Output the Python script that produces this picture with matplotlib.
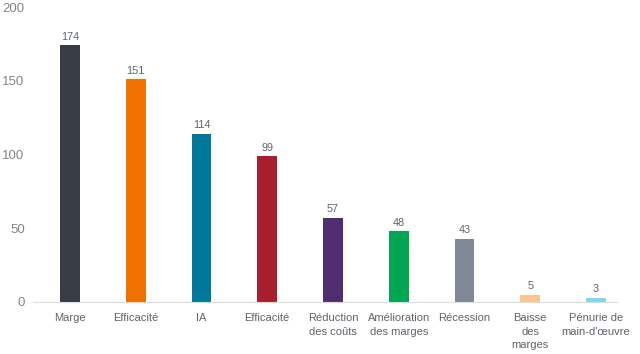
import matplotlib
matplotlib.use("Agg")
import matplotlib.pyplot as plt

categories = ["Marge", "Efficacité", "IA", "Efficacité", "Réduction\ndes coûts",
              "Amélioration\ndes marges", "Récession", "Baisse\ndes\nmarges",
              "Pénurie de\nmain-d'œuvre"]
values = [174, 151, 114, 99, 57, 48, 43, 5, 3]
colors = ["#373c45", "#f07000", "#00789a", "#a81e2e", "#4f2d6e",
          "#00a651", "#808898", "#fcc490", "#7dd6f2"]
yticks = [0, 50, 100, 150, 200]

plt.rcParams['font.family'] = ['Liberation Sans', 'DejaVu Sans']
fig = plt.figure(figsize=(6.4, 3.54), dpi=100)
ax = fig.add_axes([33/640, (354-302)/354, (617-33)/640, (302-7)/354])
x = list(range(len(categories)))
ax.bar(x, values, width=0.30, color=colors, zorder=2)
for xi, v in zip(x, values):
    ax.annotate(str(v), (xi, v), xytext=(0, 2.5), textcoords="offset points",
                ha="center", va="bottom", fontsize=7.8, color="#5f636b")
ax.set_xlim(-0.563, 8.32)
ax.set_ylim(0, 200)
ax.set_yticks(yticks)
ax.set_xticks(x)
ax.set_xticklabels(categories, fontsize=8, color="#5f636b", linespacing=1.45)
ax.tick_params(axis="x", length=0, pad=8)
ax.tick_params(axis="y", length=0, labelsize=9.5, labelcolor="#80858c", pad=6)
for s in ["top", "right", "left"]:
    ax.spines[s].set_visible(False)
ax.spines["bottom"].set_color("#dcdcdc")
ax.spines["bottom"].set_linewidth(0.8)
fig.savefig("out.png", dpi=100)
